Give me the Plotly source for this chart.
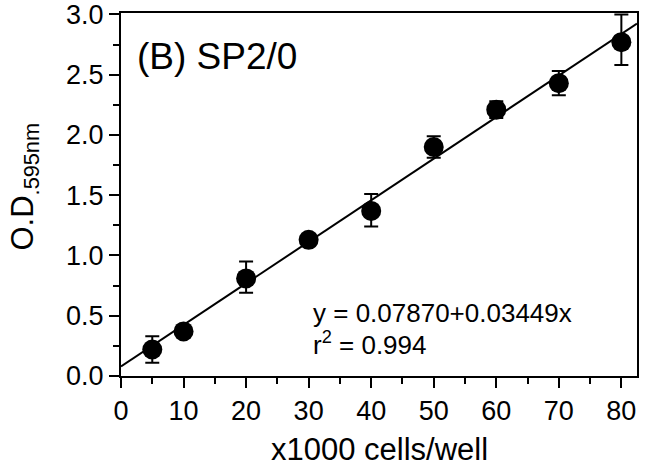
import plotly.graph_objects as go

cells = [5, 10, 20, 30, 40, 50, 60, 70, 80]
od = [0.22, 0.37, 0.81, 1.13, 1.37, 1.90, 2.21, 2.43, 2.77]
err_plus = [0.11, 0.03, 0.14, 0.03, 0.14, 0.09, 0.07, 0.10, 0.23]
err_minus = [0.11, 0.03, 0.12, 0.03, 0.13, 0.09, 0.07, 0.10, 0.19]
intercept = 0.07870
slope = 0.03449
fit_x = [0, 82.5]
fit_y = [intercept + slope * v for v in fit_x]
x_ticks = [0, 10, 20, 30, 40, 50, 60, 70, 80]
y_ticks = [0, 0.5, 1.0, 1.5, 2.0, 2.5, 3.0]
y_ticktext = ["0.0", "0.5", "1.0", "1.5", "2.0", "2.5", "3.0"]

FONT = "Liberation Sans, Arial, sans-serif"

fig = go.Figure()
fig.add_trace(go.Scatter(x=fit_x, y=fit_y, mode="lines",
                         line=dict(color="black", width=2), showlegend=False))
fig.add_trace(go.Scatter(
    x=cells, y=od, mode="markers",
    marker=dict(color="black", size=20, symbol="circle"),
    error_y=dict(type="data", array=err_plus, arrayminus=err_minus,
                 color="black", thickness=2, width=7),
    showlegend=False, cliponaxis=False))

fig.add_annotation(x=0, y=1, xref="paper", yref="paper", xshift=14, yshift=-43,
                   xanchor="left", yanchor="middle", showarrow=False,
                   text="(B) SP2/0", font=dict(family=FONT, size=37, color="black"))
fig.add_annotation(x=0, y=0, xref="paper", yref="paper", xshift=190, yshift=63,
                   xanchor="left", yanchor="middle", showarrow=False,
                   text="y = 0.07870+0.03449x", font=dict(family=FONT, size=26, color="black"))
fig.add_annotation(x=0, y=0, xref="paper", yref="paper", xshift=190, yshift=33,
                   xanchor="left", yanchor="middle", showarrow=False,
                   text="r<sup>2</sup> = 0.994", font=dict(family=FONT, size=26, color="black"))
# axis titles
fig.add_annotation(x=0.5, y=0, xref="paper", yref="paper", yshift=-73,
                   xanchor="center", yanchor="middle", showarrow=False,
                   text="x1000 cells/well", font=dict(family=FONT, size=31, color="black"))
fig.add_annotation(x=0, y=0.5, xref="paper", yref="paper", xshift=-97, yshift=7,
                   xanchor="center", yanchor="middle", showarrow=False, textangle=-90,
                   text="O.D<sub>.595nm</sub>", font=dict(family=FONT, size=31, color="black"))

axis_common = dict(showline=True, linecolor="black", linewidth=2, mirror=True,
                   ticks="outside", ticklen=10, tickwidth=2, tickcolor="black",
                   showgrid=False, zeroline=False, automargin=False,
                   ticklabeloverflow="allow",
                   tickfont=dict(family=FONT, size=27, color="black"))

fig.update_xaxes(range=[0, 82.5], tickvals=x_ticks,
                 minor=dict(tickvals=[5, 15, 25, 35, 45, 55, 65, 75], ticklen=6,
                            tickwidth=2, tickcolor="black", ticks="outside"),
                 **axis_common)
fig.update_yaxes(range=[0, 3.012], tickvals=y_ticks, ticktext=y_ticktext,
                 minor=dict(tickvals=[0.25, 0.75, 1.25, 1.75, 2.25, 2.75], ticklen=6,
                            tickwidth=2, tickcolor="black", ticks="outside"),
                 **axis_common)

fig.update_layout(width=650, height=470, paper_bgcolor="white", plot_bgcolor="white",
                  margin=dict(l=121, r=13, t=13, b=94),
                  font=dict(family=FONT, color="black"))

# remove the browser's default 8px body margin so the figure fills the window
fig.write_html("out.html", config={"displayModeBar": False},
               post_script="document.body.style.margin='0px';")
